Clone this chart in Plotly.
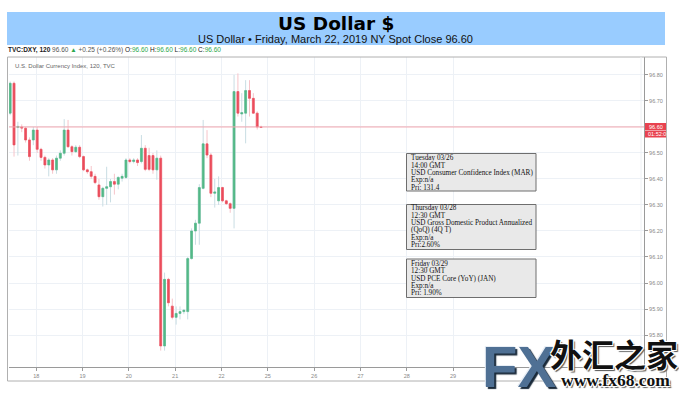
import plotly.graph_objects as go

# ---------------- data ----------------
opens = [96.653, 96.768, 96.598, 96.600, 96.595, 96.550, 96.550, 96.588, 96.514, 96.483,
         96.454, 96.473, 96.435, 96.480, 96.499, 96.588, 96.524, 96.505, 96.522, 96.486,
         96.435, 96.428, 96.410, 96.377, 96.332, 96.364, 96.370, 96.390, 96.380, 96.403,
         96.406, 96.473, 96.467, 96.473, 96.467, 96.518, 96.490, 96.490, 96.435, 96.480,
         95.758, 96.014, 95.911, 95.868, 95.883, 95.890, 95.890, 96.094, 96.200, 96.230,
         96.364, 96.535, 96.492, 96.345, 96.316, 96.367, 96.316, 96.305, 96.287, 96.736,
         96.650, 96.653, 96.740, 96.710, 96.653, 96.600]
highs = [96.775, 96.775, 96.620, 96.610, 96.600, 96.560, 96.600, 96.600, 96.520, 96.490,
         96.480, 96.480, 96.490, 96.510, 96.630, 96.627, 96.530, 96.530, 96.530, 96.490,
         96.440, 96.450, 96.420, 96.400, 96.370, 96.447, 96.400, 96.420, 96.410, 96.420,
         96.480, 96.480, 96.480, 96.480, 96.569, 96.530, 96.520, 96.500, 96.510, 96.490,
         96.040, 96.020, 95.940, 95.910, 95.910, 95.900, 96.100, 96.210, 96.243, 96.380,
         96.627, 96.588, 96.500, 96.400, 96.410, 96.370, 96.320, 96.310, 96.800, 96.806,
         96.730, 96.780, 96.780, 96.730, 96.660, 96.605]
lows = [96.645, 96.486, 96.490, 96.580, 96.540, 96.470, 96.530, 96.500, 96.470, 96.440,
        96.410, 96.420, 96.420, 96.470, 96.490, 96.520, 96.490, 96.500, 96.480, 96.430,
        96.420, 96.400, 96.380, 96.320, 96.294, 96.300, 96.310, 96.340, 96.360, 96.390,
        96.400, 96.460, 96.460, 96.450, 96.460, 96.430, 96.430, 96.420, 96.397, 95.740,
        95.740, 95.910, 95.860, 95.840, 95.860, 95.880, 95.860, 96.090, 96.147, 96.147,
        96.360, 96.480, 96.330, 96.290, 96.300, 96.310, 96.300, 96.270, 96.210, 96.640,
        96.620, 96.537, 96.640, 96.650, 96.590, 96.598]
closes = [96.768, 96.531, 96.602, 96.596, 96.550, 96.486, 96.588, 96.514, 96.483, 96.454,
          96.473, 96.435, 96.480, 96.499, 96.588, 96.524, 96.505, 96.522, 96.486, 96.435,
          96.428, 96.410, 96.386, 96.332, 96.364, 96.370, 96.390, 96.380, 96.406, 96.410,
          96.473, 96.467, 96.473, 96.463, 96.518, 96.437, 96.437, 96.435, 96.480, 95.758,
          96.014, 95.924, 95.868, 95.883, 95.890, 95.895, 96.094, 96.200, 96.230, 96.367,
          96.535, 96.492, 96.345, 96.350, 96.367, 96.316, 96.305, 96.287, 96.736, 96.653,
          96.655, 96.740, 96.710, 96.653, 96.600, 96.598]
day_labels = ["18", "19", "20", "21", "22", "25", "26", "27", "28", "29"]
bars_per_day = 12
first_day_offset = 6.75
last_price = 96.60
y_ticks = [95.80, 95.90, 96.00, 96.10, 96.20, 96.30, 96.40, 96.50, 96.60, 96.70, 96.80]

events = [
    ["Tuesday 03/26", "14:00 GMT", "USD Consumer Confidence Index (MAR)", "Exp:n/a", "Pri: 131.4"],
    ["Thursday 03/28", "12:30 GMT", "USD Gross Domestic Product Annualized", "(QoQ) (4Q T)", "Exp:n/a", "Pri:2.60%"],
    ["Friday 03/29", "12:30 GMT", "USD PCE Core (YoY) (JAN)", "Exp:n/a", "Pri: 1.90%"],
]

x = list(range(len(opens)))
body_hi = [max(o, c) for o, c in zip(opens, closes)]
body_lo = [min(o, c) for o, c in zip(opens, closes)]
tickvals = [first_day_offset + bars_per_day * k for k in range(len(day_labels))]

# ---------------- layout helpers (pixel -> paper) ----------------
W, H = 679, 393
PL, PR, PT, PB = 9, 644, 57, 367
def px(v):
    return (v - PL) / (PR - PL)
def py(v):
    return (PB - v) / (PB - PT)

GREEN = "#53B987"
RED = "#EB4D5C"

fig = go.Figure()
# wicks (pale)
fig.add_trace(go.Candlestick(
    x=x, open=opens, high=highs, low=lows, close=closes,
    increasing=dict(line=dict(color="#c9dde3", width=1), fillcolor="rgba(0,0,0,0)"),
    decreasing=dict(line=dict(color="#f6c4ca", width=1), fillcolor="rgba(0,0,0,0)"),
    whiskerwidth=0, showlegend=False, hoverinfo="skip"))
# bodies
fig.add_trace(go.Candlestick(
    x=x, open=opens, high=body_hi, low=body_lo, close=closes,
    increasing=dict(line=dict(color=GREEN, width=0.6), fillcolor=GREEN),
    decreasing=dict(line=dict(color=RED, width=0.6), fillcolor=RED),
    whiskerwidth=0, showlegend=False))

shapes = []
annotations = []

# banner
shapes.append(dict(type="rect", xref="paper", yref="paper", x0=px(7), x1=px(665), y0=py(45), y1=py(12),
                   fillcolor="#99CCFF", line=dict(width=0), layer="below"))
annotations.append(dict(xref="paper", yref="paper", x=px(335.5), y=py(23.5), text="<b>US Dollar $</b>",
                        showarrow=False, xanchor="center", yanchor="middle",
                        font=dict(family="DejaVu Sans, Verdana", size=18.5, color="#000")))
annotations.append(dict(xref="paper", yref="paper", x=px(335.5), y=py(38.5),
                        text="US Dollar • Friday, March 22, 2019 NY Spot Close 96.60",
                        showarrow=False, xanchor="center", yanchor="middle",
                        font=dict(family="Liberation Sans, Arial", size=11, color="#111")))

# TVC header
g = "#2ea84f"
tvc = ("<b>TVC:DXY, 120</b> <span style='color:#555'>96.60</span> <span style='color:%s'>▲</span> "
       "<span style='color:#555'>+0.25 (+0.26%%)</span> O:<span style='color:%s'>96.60</span> "
       "H:<span style='color:%s'>96.60</span> L:<span style='color:%s'>96.60</span> "
       "C:<span style='color:%s'>96.60</span>") % (g, g, g, g, g)
annotations.append(dict(xref="paper", yref="paper", x=px(6), y=py(50.5), text=tvc, showarrow=False,
                        xanchor="left", yanchor="middle",
                        font=dict(family="Liberation Sans Narrow, Liberation Sans", size=6.5, color="#222")))

# chart inner title
annotations.append(dict(xref="paper", yref="paper", x=px(12.5), y=py(66), text="U.S. Dollar Currency Index, 120, TVC",
                        showarrow=False, xanchor="left", yanchor="middle",
                        font=dict(family="Liberation Sans, Arial", size=6, color="#666")))

# outer frame
shapes.append(dict(type="rect", xref="paper", yref="paper", x0=px(7.5), x1=px(666.5), y0=py(381), y1=py(57),
                   line=dict(color="#b0b0b0", width=1), fillcolor="rgba(0,0,0,0)"))
shapes.append(dict(type="line", xref="paper", yref="paper", x0=px(641), x1=px(641), y0=0, y1=1,
                   line=dict(color="#eef1f4", width=1)))

# last price line
shapes.append(dict(type="line", xref="paper", yref="y", x0=0, x1=1, y0=last_price, y1=last_price,
                   line=dict(color="#f2a6ae", width=1)))
# last price label
shapes.append(dict(type="rect", xref="paper", yref="paper", x0=px(645), x1=px(666), y0=py(130.5), y1=py(123),
                   fillcolor="#E8424F", line=dict(width=0)))
shapes.append(dict(type="rect", xref="paper", yref="paper", x0=px(645), x1=px(666), y0=py(137.5), y1=py(131),
                   fillcolor="#E8424F", line=dict(width=0)))
annotations.append(dict(xref="paper", yref="paper", x=px(655.5), y=py(126.8), text="96.60", showarrow=False,
                        xanchor="center", yanchor="middle",
                        font=dict(family="Liberation Sans, Arial", size=5.5, color="#fff")))
annotations.append(dict(xref="paper", yref="paper", x=px(646), y=py(134.2), text="01:52:0", showarrow=False,
                        xanchor="left", yanchor="middle",
                        font=dict(family="Liberation Sans, Arial", size=5.5, color="#fff")))

# event boxes
box_geo = [(153.5, 191, 158.3), (204.5, 249.5, 208.3), (259, 297.5, 264)]
for ev, (top, bot, first) in zip(events, box_geo):
    shapes.append(dict(type="rect", xref="paper", yref="paper", x0=px(406.5), x1=px(536), y0=py(bot), y1=py(top),
                       fillcolor="#e9e9e9", line=dict(color="#6e6e6e", width=1)))
    for k, line in enumerate(ev):
        annotations.append(dict(xref="paper", yref="paper", x=px(408.5), y=py(first + 7.35 * k), text=line,
                                showarrow=False, xanchor="left", yanchor="middle",
                                font=dict(family="Liberation Serif, Times New Roman", size=7.2, color="#111")))

# logo
annotations.append(dict(xref="paper", yref="paper", x=px(519), y=py(366), text="<b>FX</b>", showarrow=False,
                        xanchor="center", yanchor="middle",
                        font=dict(family="Liberation Sans Narrow, Liberation Sans", size=58, color="#4f7094",
                                  shadow="2px 2px 1px #1a2a3a, -1px -1px 0px #e8eef5")))
annotations.append(dict(xref="paper", yref="paper", x=px(614), y=py(352.5), text="<b>外汇之家</b>", showarrow=False,
                        xanchor="center", yanchor="middle",
                        font=dict(family="Noto Sans CJK SC", size=32, color="#111",
                                  shadow="1px 1px 0 #fff, -1px -1px 0 #fff, 1px -1px 0 #fff, -1px 1px 0 #fff, 2px 2px 1px #555")))
annotations.append(dict(xref="paper", yref="paper", x=px(615), y=py(380), text="<b>www.fx68.com</b>", showarrow=False,
                        xanchor="center", yanchor="middle",
                        font=dict(family="Liberation Serif, Times New Roman", size=17.5, color="#111",
                                  shadow="1px 1px 0 #fff, -1px -1px 0 #fff, 1px -1px 0 #fff, -1px 1px 0 #fff, 2px 2px 1px #555")))

fig.update_layout(
    width=W, height=H,
    margin=dict(l=PL, r=W - PR, t=PT, b=H - PB, autoexpand=False),
    paper_bgcolor="white", plot_bgcolor="white",
    shapes=shapes, annotations=annotations,
    showlegend=False,
    xaxis=dict(range=[-0.3, 164.2], rangeslider=dict(visible=False), tickvals=tickvals, ticktext=day_labels,
               showgrid=True, gridcolor="#edf1f6", gridwidth=1, zeroline=False, automargin=False,
               showline=True, linecolor="#9a9a9a", linewidth=1, ticks="outside", ticklen=3, tickcolor="#9a9a9a",
               tickfont=dict(family="Liberation Sans, Arial", size=5.5, color="#888")),
    yaxis=dict(range=[95.677, 96.869], side="right", tickvals=y_ticks, tickformat=".2f",
               showgrid=True, gridcolor="#edf1f6", gridwidth=1, zeroline=False, automargin=False,
               showline=True, linecolor="#9a9a9a", linewidth=1, ticks="outside", ticklen=3, tickcolor="#9a9a9a",
               tickfont=dict(family="Liberation Sans, Arial", size=5.5, color="#888")),
)

fig.write_html("out.html", config={"displayModeBar": False},
               post_script="document.body.style.margin='0';")
